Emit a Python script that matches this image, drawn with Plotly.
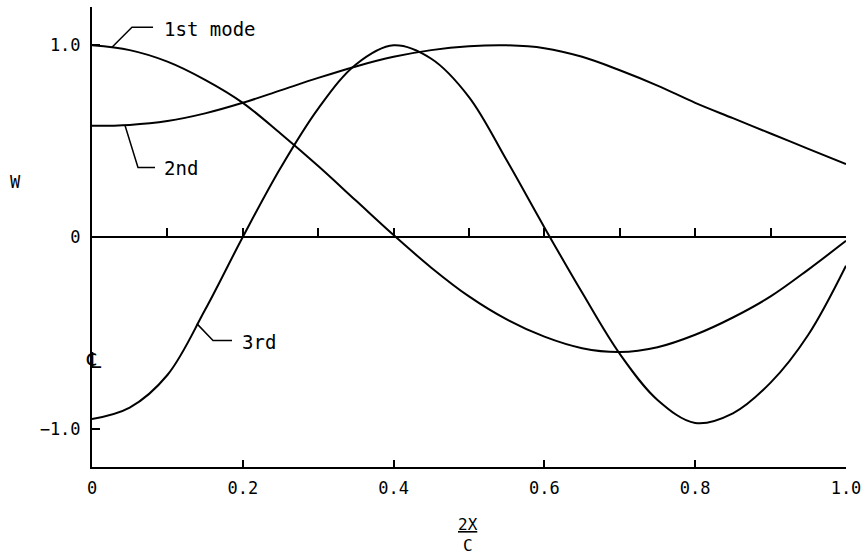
import plotly.graph_objects as go

# spanwise station 2X/C
x_pos = [0.0, 0.05, 0.10, 0.15, 0.20, 0.25, 0.30, 0.35, 0.40, 0.45, 0.50,
         0.55, 0.60, 0.65, 0.70, 0.75, 0.80, 0.85, 0.90, 0.95, 1.0]

# normalized deflection W for each mode
w_mode1 = [1.0, 0.975, 0.915, 0.82, 0.70, 0.54, 0.37, 0.19, 0.01, -0.16, -0.31,
           -0.43, -0.52, -0.58, -0.60, -0.575, -0.51, -0.42, -0.31, -0.17, -0.02]
w_mode2 = [0.58, 0.585, 0.605, 0.645, 0.70, 0.765, 0.83, 0.89, 0.94, 0.975, 0.995,
           1.0, 0.985, 0.94, 0.87, 0.79, 0.70, 0.62, 0.54, 0.46, 0.38]
w_mode3 = [-0.95, -0.89, -0.72, -0.38, 0.0, 0.36, 0.67, 0.90, 1.0, 0.93, 0.73,
           0.40, 0.05, -0.29, -0.61, -0.85, -0.97, -0.92, -0.76, -0.51, -0.15]

x_ticks = [0, 0.2, 0.4, 0.6, 0.8, 1.0]
x_tick_text = ["0", "0.2", "0.4", "0.6", "0.8", "1.0"]
y_ticks = [-1.0, 0, 1.0]
y_tick_text = ["\u22121.0", "0", "1.0"]

FONT = "DejaVu Sans Mono"
line = dict(color="black", width=2, shape="spline", smoothing=1.0)

fig = go.Figure()
fig.add_trace(go.Scatter(x=x_pos, y=w_mode1, mode="lines", line=line, xaxis="x2"))
fig.add_trace(go.Scatter(x=x_pos, y=w_mode2, mode="lines", line=line))
fig.add_trace(go.Scatter(x=x_pos, y=w_mode3, mode="lines", line=line))

# leader lines for the mode labels
leaders = [
    ("M 0.0265 0.99 L 0.053 1.094 L 0.081 1.094", "1st mode", 0.093, 1.085),
    ("M 0.0438 0.582 L 0.061 0.363 L 0.0836 0.363", "2nd", 0.093, 0.358),
    ("M 0.139 -0.452 L 0.1605 -0.540 L 0.1857 -0.540", "3rd", 0.196, -0.546),
]
for path, label, tx, ty in leaders:
    fig.add_shape(type="path", path=path, xref="x", yref="y",
                  line=dict(color="black", width=1.5))
    fig.add_annotation(x=tx, y=ty, xref="x", yref="y", text=label, showarrow=False,
                       xanchor="left", yanchor="middle",
                       font=dict(family=FONT, size=19, color="black"))

fig.add_annotation(x=-0.101, y=0.285, xref="paper", yref="y", text="W", showarrow=False,
                   xanchor="center", yanchor="middle",
                   font=dict(family=FONT, size=17, color="black"))
fig.add_annotation(x=0.002, y=-0.645, xref="x", yref="y", text="\u2104", showarrow=False,
                   xanchor="center", yanchor="middle",
                   font=dict(family="DejaVu Sans", size=22, color="black"))
# x-axis label written as the fraction 2X over C
fig.add_annotation(x=0.4987, y=-0.1245, xref="paper", yref="paper",
                   text="<u>2X</u>", showarrow=False,
                   xanchor="center", yanchor="middle",
                   font=dict(family=FONT, size=16, color="black"))
fig.add_annotation(x=0.4987, y=-0.196, xref="paper", yref="paper",
                   text="C", showarrow=False,
                   xanchor="center", yanchor="bottom",
                   font=dict(family=FONT, size=16, color="black"))

fig.update_layout(
    width=868, height=557,
    margin=dict(l=92, r=22, t=7, b=90),
    paper_bgcolor="white", plot_bgcolor="white",
    showlegend=False,
    font=dict(family=FONT, size=17, color="black"),
    xaxis=dict(range=[0, 1.0], tickvals=x_ticks, ticktext=x_tick_text,
               ticks="inside", ticklen=7, tickwidth=1.5, tickcolor="black",
               showline=True, linecolor="black", linewidth=2,
               showgrid=False, zeroline=False, ticklabelstandoff=5),
    xaxis2=dict(range=[0, 1.0], overlaying="x", anchor="free", position=0.5,
                side="bottom", dtick=0.1, tick0=0, ticks="inside", ticklen=8,
                tickwidth=1.5, tickcolor="black", showticklabels=False,
                showline=True, linecolor="black", linewidth=2,
                showgrid=False, zeroline=False),
    yaxis=dict(range=[-1.2, 1.2], tickvals=y_ticks, ticktext=y_tick_text,
               ticks="inside", ticklen=8, tickwidth=1.5, tickcolor="black",
               showline=True, linecolor="black", linewidth=2,
               showgrid=False, zeroline=False, ticklabelstandoff=6),
)

fig.write_html("out.html", config={"displayModeBar": False},
               post_script="document.body.style.margin='0';")
